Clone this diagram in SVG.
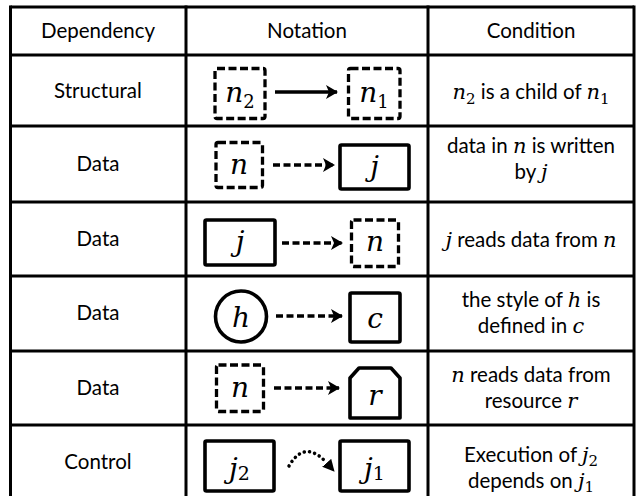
<svg xmlns="http://www.w3.org/2000/svg" width="638" height="496" viewBox="0 0 638 496">
<defs>
<style>
.grid{stroke:#000;stroke-width:3;fill:none}
.t{font-family:Lato,"Liberation Sans",sans-serif;font-size:20.5px;fill:#000;text-anchor:middle}
.m{font-family:"DejaVu Serif",serif;font-style:italic}
.s{font-family:"DejaVu Serif",serif;font-style:normal}
.bm{font-family:"DejaVu Serif",serif;font-style:italic;font-size:28px;fill:#000;text-anchor:middle}
.dash{stroke:#000;stroke-width:3.3;fill:#fff;stroke-dasharray:8 3.5;stroke-linejoin:round}
.solid{stroke:#000;stroke-width:3.6;fill:#fff;stroke-linejoin:round}
.arr{stroke:#000;stroke-width:3.3;fill:none}
.darr{stroke:#000;stroke-width:3.3;fill:none;stroke-dasharray:7 3.5}
.dot{stroke:#000;stroke-width:3.5;fill:none;stroke-dasharray:0.1 5.2;stroke-linecap:round}
</style>
<marker id="ah" viewBox="0 0 12 14" refX="11" refY="7" markerWidth="12" markerHeight="14" markerUnits="userSpaceOnUse" orient="auto">
<path d="M0,0 L12,7 L0,14 L3,7 Z" fill="#000"/>
</marker>
<marker id="ah2" viewBox="0 0 10 10" refX="8" refY="5" markerWidth="12" markerHeight="12" markerUnits="userSpaceOnUse" orient="auto">
<path d="M0,0 L10,5 L0,10 Z" fill="#000"/>
</marker>
</defs>
<rect width="638" height="496" fill="#fff"/>
<g id="table" class="grid">
<path d="M10.5,7 H634 M10.5,55 H634 M10.5,126 H634 M10.5,202 H634 M10.5,276 H634 M10.5,351 H634 M10.5,425 H634"/>
<path d="M10.5,5.5 V500 M186,5.5 V500 M428,5.5 V500 M634,5.5 V500"/>
</g>
<g id="header">
<text class="t" x="98" y="38">Dependency</text>
<text class="t" x="307" y="38">Notation</text>
<text class="t" x="531" y="38">Condition</text>
</g>
<g id="labels">
<text class="t" x="98" y="98">Structural</text>
<text class="t" x="98" y="171">Data</text>
<text class="t" x="98" y="246">Data</text>
<text class="t" x="98" y="320">Data</text>
<text class="t" x="98" y="395">Data</text>
<text class="t" x="98" y="469">Control</text>
</g>
<g id="row1-n2"><rect class="dash" x="215" y="68.5" width="50" height="50" rx="2"/><text class="bm" x="240" y="102">n<tspan class="s" font-size="18" dy="6">2</tspan></text></g>
<g id="row1-n1"><rect class="dash" x="348.5" y="68.5" width="51.5" height="50" rx="2"/><text class="bm" x="374" y="102">n<tspan class="s" font-size="18" dy="6">1</tspan></text></g>
<g id="row2-n"><rect class="dash" x="216" y="142.5" width="46.5" height="45" rx="2"/><text class="bm" x="239" y="174">n</text></g>
<g id="row2-j"><rect class="solid" x="340" y="145" width="69" height="44" rx="1.5"/><text class="bm" x="374.5" y="176">j</text></g>
<g id="row3-j"><rect class="solid" x="205" y="220" width="70" height="45" rx="1.5"/><text class="bm" x="240" y="251">j</text></g>
<g id="row3-n"><rect class="dash" x="351.5" y="220" width="47" height="46.5" rx="2"/><text class="bm" x="375" y="251">n</text></g>
<g id="row4-h"><circle class="solid" cx="241" cy="316.5" r="25.5"/><text class="bm" x="241" y="327">h</text></g>
<g id="row4-c"><rect class="solid" x="350" y="293" width="50" height="49" rx="1.5"/><text class="bm" x="375" y="328">c</text></g>
<g id="row5-n"><rect class="dash" x="216.5" y="365" width="47" height="46.5" rx="2"/><text class="bm" x="240" y="397">n</text></g>
<g id="row5-r"><path class="solid" d="M350,378 L359,368 L391,368 L400,378 L400,418 L350,418 Z"/><text class="bm" x="375" y="405">r</text></g>
<g id="row6-j2"><rect class="solid" x="205" y="441" width="69" height="50" rx="1.5"/><text class="bm" x="239.5" y="478">j<tspan class="s" font-size="19" dy="2">2</tspan></text></g>
<g id="row6-j1"><rect class="solid" x="340" y="441" width="69" height="50" rx="1.5"/><text class="bm" x="374.5" y="478">j<tspan class="s" font-size="19" dy="2">1</tspan></text></g>
<g id="connectors">
<line class="arr" x1="275" y1="92" x2="337" y2="92" marker-end="url(#ah)"/>
<line class="darr" x1="273" y1="165" x2="334" y2="165" marker-end="url(#ah)"/>
<line class="darr" x1="282" y1="243" x2="342" y2="243" marker-end="url(#ah)"/>
<line class="darr" x1="276" y1="316" x2="342" y2="316" marker-end="url(#ah)"/>
<line class="darr" x1="274" y1="388" x2="339" y2="388" marker-end="url(#ah)"/>
<path class="dot" d="M289,466 Q304,440 325,461"/>
<path d="M326,462 L333,470" stroke="none" fill="none" marker-end="url(#ah2)"/>
</g>
<g id="conditions">
<text class="t" x="531" y="99"><tspan class="m" font-size="21">n</tspan><tspan class="s" font-size="15" dy="5">2</tspan><tspan dy="-5"> is a child of </tspan><tspan class="m" font-size="21">n</tspan><tspan class="s" font-size="15" dy="5">1</tspan></text>
<text class="t" x="531" y="153">data in <tspan class="m" font-size="21">n</tspan> is written</text>
<text class="t" x="531" y="179">by <tspan class="m" font-size="21">j</tspan></text>
<text class="t" x="531" y="247"><tspan class="m" font-size="21">j</tspan> reads data from <tspan class="m" font-size="21">n</tspan></text>
<text class="t" x="531" y="307">the style of <tspan class="m" font-size="21">h</tspan> is</text>
<text class="t" x="531" y="333">defined in <tspan class="m" font-size="21">c</tspan></text>
<text class="t" x="531" y="382"><tspan class="m" font-size="21">n</tspan> reads data from</text>
<text class="t" x="531" y="408">resource <tspan class="m" font-size="21">r</tspan></text>
<text class="t" x="531" y="462">Execution of <tspan class="m" font-size="21">j</tspan><tspan class="s" font-size="15" dy="4">2</tspan></text>
<text class="t" x="531" y="488">depends on <tspan class="m" font-size="21">j</tspan><tspan class="s" font-size="15" dy="4">1</tspan></text>
</g>
</svg>
